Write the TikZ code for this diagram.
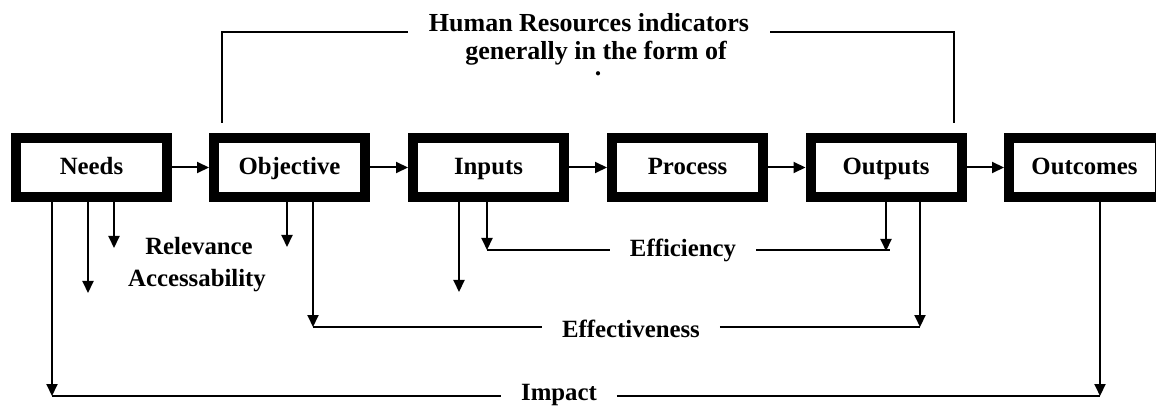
\documentclass[tikz,border=0pt]{standalone}
\usepackage{fontspec}
\setmainfont{Liberation Serif}
\usetikzlibrary{arrows.meta}

\begin{document}
\begin{tikzpicture}[
    x=0.5pt, y=-0.5pt,
    line width=1pt,
    >={Triangle[length=6pt,width=5.5pt]},
    font=\bfseries\fontsize{12.4}{14}\selectfont,
    box/.style={
        rectangle,
        draw=black, fill=white,
        line width=5pt, inner sep=0pt,
        minimum width=75.5pt, minimum height=29.5pt,
        text height=0.69em, text depth=0pt,
      },
    tag/.style={inner xsep=9.5pt, inner ysep=1pt},
    head/.style={font=\bfseries\fontsize{13}{15}\selectfont,
        inner xsep=10pt, inner ysep=0pt, anchor=base},
  ]
  \useasboundingbox (0,0) rectangle (1156,406);

  % the chain of boxes
  \node[box] (needs) at (91.5,167.5) {Needs};
  \node[box] (objective) at (289.5,167.5) {Objective};
  \node[box] (inputs) at (488.5,167.5) {Inputs};
  \node[box] (process) at (687.5,167.5) {Process};
  \node[box] (outputs) at (886,167.5) {Outputs};
  \node[box] (outcomes) at (1084.5,167.5) {Outcomes};

  \draw[->] (needs) -- (objective);
  \draw[->] (objective) -- (inputs);
  \draw[->] (inputs) -- (process);
  \draw[->] (process) -- (outputs);
  \draw[->] (outputs) -- (outcomes);

  % heading with its bracket
  \node[head] (hr1) at (589,32) {Human Resources indicators};
  \node[head] (hr2) at (596,60) {generally in the form of};
  \node[head, inner sep=0pt] (hr3) at (598,76) {.};
  \coordinate (br-l) at (222,123);
  \coordinate (br-r) at (954,123);
  \draw
  (br-l) |- (hr1.base west)
  (br-r) |- (hr1.base east)
  ;

  % relevance and accessability
  \node[tag] (rel) at (199,246) {Relevance};
  \node[tag] (acc) at (197,281) {Accessability};
  \coordinate (rel-n) at (114,248);
  \coordinate (rel-o) at (287,247);
  \coordinate (acc-n) at (88,293);
  \coordinate (acc-i) at (459,292);
  \draw[->] (needs.south -| rel-n) -- (rel-n);
  \draw[->] (objective.south -| rel-o) -- (rel-o);
  \draw[->] (needs.south -| acc-n) -- (acc-n);
  \draw[->] (inputs.south -| acc-i) -- (acc-i);

  % efficiency
  \node[tag] (eff) at (683,250) {Efficiency};
  \coordinate (eff-l) at (487,250);
  \coordinate (eff-r) at (890,250);
  \coordinate (eff-o) at (886,251);
  \draw[->] (inputs.south -| eff-l) -- (eff-l);
  \draw[->] (outputs.south -| eff-o) -- (eff-o);
  \draw
  (eff-l) -- (eff-l -| eff.west)
  (eff.east |- eff-r) -- (eff-r)
  ;

  % effectiveness
  \node[tag] (efv) at (631,329) {Effectiveness};
  \coordinate (efv-l) at (313,327);
  \coordinate (efv-r) at (920,327);
  \draw[->] (objective.south -| efv-l) -- (efv-l);
  \draw[->] (outputs.south -| efv-r) -- (efv-r);
  \draw
  (efv-l) -- (efv-l -| efv.west)
  (efv.east |- efv-r) -- (efv-r)
  ;

  % impact
  \node[tag] (imp) at (559,395) {Impact};
  \coordinate (imp-l) at (52,396);
  \coordinate (imp-r) at (1100,396);
  \draw[->] (needs.south -| imp-l) -- (imp-l);
  \draw[->] (outcomes.south -| imp-r) -- (imp-r);
  \draw
  (imp-l) -- (imp-l -| imp.west)
  (imp.east |- imp-r) -- (imp-r)
  ;
\end{tikzpicture}
\end{document}
